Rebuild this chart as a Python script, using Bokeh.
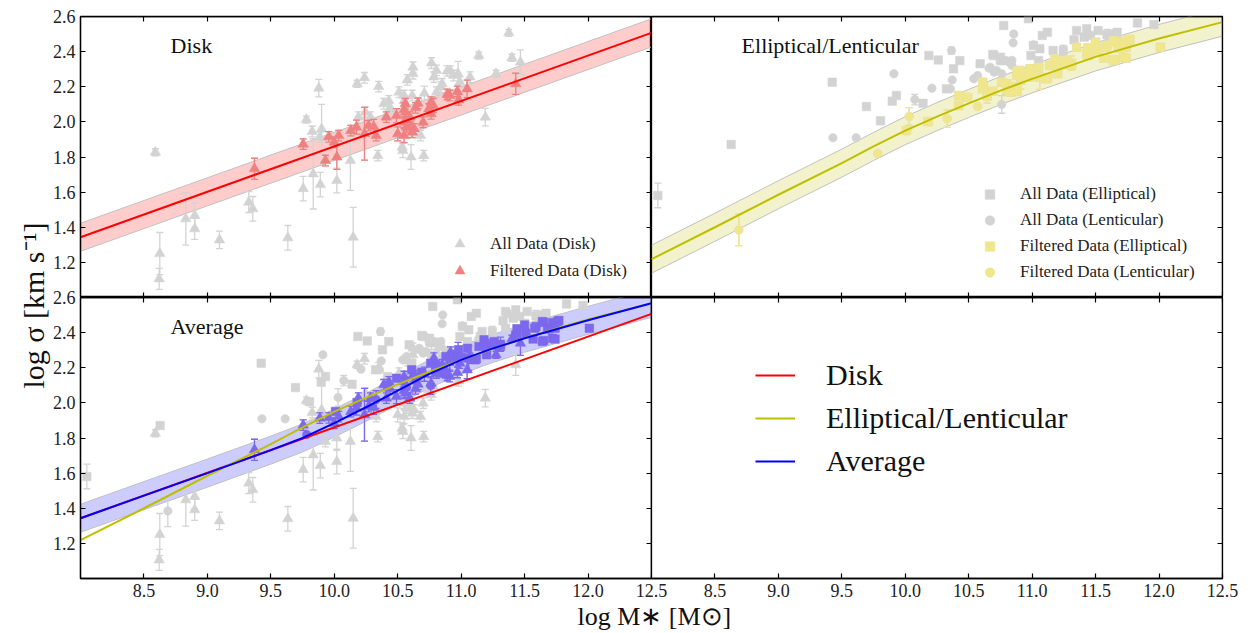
import numpy as np
from bokeh.plotting import figure
from bokeh.models import LinearAxis, FixedTicker, Label, Legend, LegendItem, Range1d, Title
from bokeh.layouts import row, column
from bokeh.embed import file_html
from bokeh.resources import INLINE

FONT = "Liberation Serif"

# ---------------- tick values ----------------
x_ticks = [8.5, 9.0, 9.5, 10.0, 10.5, 11.0, 11.5, 12.0, 12.5]
x_tick_labels = ["8.5", "9.0", "9.5", "10.0", "10.5", "11.0", "11.5", "12.0", "12.5"]
y_ticks = [1.2, 1.4, 1.6, 1.8, 2.0, 2.2, 2.4, 2.6]
y_tick_labels = ["1.2", "1.4", "1.6", "1.8", "2.0", "2.2", "2.4", "2.6"]

# ---------------- fit curves ----------------
disk_fit_x = [8.0, 12.5]
disk_fit_y = [1.343, 2.507]
ell_fit_x = [8.0, 8.5, 9.0, 9.5, 9.75, 10.0, 10.25, 10.5, 10.75, 11.0, 11.5, 12.0, 12.5]
ell_fit_y = [1.218, 1.40, 1.585, 1.765, 1.86, 1.95, 2.03, 2.105, 2.178, 2.245, 2.37, 2.475, 2.568]
avg_fit_x = [8.0, 8.5, 9.0, 9.5, 9.75, 10.0, 10.25, 10.5, 10.75, 11.0, 11.25, 11.5, 12.0, 12.5]
avg_fit_y = [1.343, 1.472, 1.60, 1.731, 1.80, 1.885, 1.975, 2.07, 2.165, 2.245, 2.31, 2.368, 2.47, 2.567]
band_half = 0.08

# ---------------- disk: filtered ----------------
disk_filt_x = [9.371, 9.755, 9.93, 9.957, 10.0, 10.02, 10.035, 10.13, 10.175, 10.238,
               10.27, 10.31, 10.33, 10.41, 10.49, 10.50, 10.55, 10.55, 10.55, 10.56,
               10.56, 10.57, 10.595, 10.60, 10.614, 10.63, 10.64, 10.66, 10.70, 10.745,
               10.763, 10.763, 10.78, 10.89, 10.91, 10.97, 10.98, 11.047, 11.43]
disk_filt_y = [1.733, 1.873, 1.78, 1.915, 1.884, 1.80, 1.922, 1.95, 1.97, 1.932,
               1.979, 1.974, 1.922, 2.027, 2.036, 1.932, 2.069, 1.998, 1.922, 2.103,
               2.055, 1.97, 2.027, 1.97, 1.941, 1.96, 2.08, 2.106, 1.998, 2.074,
               2.112, 2.046, 2.093, 2.156, 2.15, 2.173, 2.125, 2.188, 2.217]
disk_filt_err = [0.06, 0.03, 0.03, 0.03, 0.03, 0.07, 0.03, 0.03, 0.04, 0.15,
                 0.03, 0.04, 0.03, 0.03, 0.04, 0.04, 0.04, 0.03, 0.04, 0.03,
                 0.03, 0.03, 0.03, 0.03, 0.03, 0.03, 0.03, 0.03, 0.03, 0.03,
                 0.03, 0.03, 0.04, 0.03, 0.03, 0.03, 0.03, 0.05, 0.06]

# ---------------- disk: other (all data) ----------------
disk_oth_x = [8.59, 8.62, 8.625, 8.83, 8.90, 8.90, 9.095, 9.326, 9.358, 9.634,
              9.755, 9.78, 9.826, 9.834, 9.878, 9.886, 9.89, 9.90, 10.02, 10.127,
              10.149, 10.18, 10.19, 10.238, 10.245, 10.285, 10.343, 10.35, 10.39, 10.43,
              10.44, 10.51, 10.535, 10.54, 10.55, 10.55, 10.575, 10.605, 10.614, 10.62,
              10.62, 10.68, 10.705, 10.71, 10.766, 10.785, 10.805, 10.805, 10.84, 10.85,
              10.89, 10.916, 10.94, 10.976, 10.99, 11.07, 11.139, 11.19, 11.275, 11.375,
              11.40, 11.467]
disk_oth_y = [1.827, 1.106, 1.25, 1.448, 1.467, 1.391, 1.328, 1.543, 1.505, 1.34,
              1.62, 2.013, 1.945, 1.704, 2.192, 1.913, 1.643, 1.96, 1.666, 1.78,
              1.343, 2.217, 2.027, 2.251, 2.055, 2.027, 1.808, 2.201, 2.103, 2.12,
              2.08, 2.169, 1.856, 1.837, 2.12, 2.15, 2.239, 1.80, 2.15, 2.311,
              2.274, 1.922, 1.808, 2.163, 2.335, 2.255, 2.293, 2.169, 2.198, 2.217,
              2.29, 2.289, 2.264, 2.274, 2.226, 2.255, 2.378, 2.027, 2.274, 2.507,
              2.365, 2.34]
disk_oth_err = [0.02, 0.06, 0.12, 0.15, 0.07, 0.06, 0.05, 0.06, 0.07, 0.07,
                0.07, 0.02, 0.03, 0.20, 0.05, 0.03, 0.07, 0.14, 0.07, 0.17,
                0.17, 0.02, 0.03, 0.03, 0.03, 0.03, 0.03, 0.03, 0.03, 0.03,
                0.03, 0.03, 0.03, 0.04, 0.03, 0.03, 0.03, 0.07, 0.03, 0.03,
                0.03, 0.03, 0.03, 0.04, 0.03, 0.03, 0.03, 0.03, 0.03, 0.03,
                0.03, 0.03, 0.03, 0.07, 0.03, 0.03, 0.02, 0.05, 0.02, 0.02,
                0.02, 0.07]

# ---------------- elliptical: other (all data) ----------------
ell_oth_x = [8.05, 8.628, 9.424, 9.694, 9.805, 9.897, 9.93, 10.14, 10.186, 10.26,
             10.325, 10.38, 10.43, 10.59, 10.69, 10.70, 10.75, 10.75, 10.77, 10.776,
             10.83, 10.97, 10.99, 11.01, 11.05, 11.06, 11.08, 11.12, 11.165, 11.245,
             11.33, 11.35, 11.41, 11.43, 11.46, 11.52, 11.59, 11.64, 11.67, 11.83,
             11.96]
ell_oth_y = [1.581, 1.871, 2.226, 2.087, 2.006, 2.118, 2.15, 2.106, 2.378, 2.353,
             2.188, 2.302, 2.349, 2.331, 2.384, 2.378, 2.368, 2.35, 2.349, 2.549,
             2.345, 2.587, 2.378, 2.435, 2.349, 2.416, 2.492, 2.51, 2.406, 2.406,
             2.468, 2.52, 2.482, 2.53, 2.492, 2.52, 2.496, 2.501, 2.51, 2.563,
             2.554]
ell_oth_err = [0.07, 0, 0, 0, 0, 0, 0, 0, 0, 0,
               0, 0, 0, 0, 0, 0, 0, 0, 0, 0,
               0, 0, 0, 0, 0, 0, 0, 0, 0, 0.03,
               0, 0, 0, 0, 0, 0, 0.03, 0, 0, 0,
               0]

# ---------------- lenticular: other (all data) ----------------
len_oth_x = [9.43, 9.613, 9.91, 10.075, 10.21, 10.356, 10.364, 10.37, 10.54, 10.57,
             10.66, 10.67, 10.70, 10.72, 10.76, 10.76, 10.84, 10.84, 10.85, 10.855,
             11.01]
len_oth_y = [1.909, 1.909, 2.274, 2.127, 2.192, 2.188, 2.406, 2.239, 2.245, 2.264,
             2.306, 2.311, 2.283, 2.293, 2.099, 2.274, 2.321, 2.35, 2.45, 2.501,
             2.439]
len_oth_err = [0, 0, 0, 0.03, 0, 0, 0.02, 0, 0, 0,
               0, 0, 0, 0, 0.05, 0, 0, 0, 0, 0,
               0]

# ---------------- elliptical: filtered ----------------
ell_filt_x = [10.01, 10.18, 10.42, 10.42, 10.49, 10.61, 10.61, 10.61, 10.645, 10.69,
              10.76, 10.80, 10.80, 10.83, 10.84, 10.86, 10.88, 10.88, 10.88, 10.90,
              10.91, 10.93, 10.97, 10.98, 11.0, 11.05, 11.06, 11.11, 11.12, 11.14,
              11.18, 11.19, 11.20, 11.20, 11.24, 11.26, 11.31, 11.31, 11.35, 11.43,
              11.44, 11.44, 11.50, 11.50, 11.51, 11.567, 11.58, 11.59, 11.64, 11.64,
              11.65, 11.65, 11.68, 11.69, 11.72, 11.72, 11.74, 11.74, 11.76, 11.77,
              12.01]
ell_filt_y = [1.951, 2.002, 2.15, 2.093, 2.14, 2.203, 2.226, 2.188, 2.147, 2.175,
              2.226, 2.217, 2.179, 2.169, 2.198, 2.198, 2.264, 2.173, 2.287, 2.293,
              2.236, 2.274, 2.255, 2.302, 2.258, 2.311, 2.255, 2.245, 2.251, 2.321,
              2.359, 2.34, 2.274, 2.293, 2.327, 2.349, 2.334, 2.321, 2.425, 2.387,
              2.422, 2.378, 2.444, 2.454, 2.397, 2.363, 2.425, 2.435, 2.463, 2.349,
              2.458, 2.355, 2.425, 2.42, 2.368, 2.458, 2.363, 2.425, 2.463, 2.469,
              2.425]
ell_filt_err = [0, 0, 0, 0, 0, 0, 0, 0, 0.04, 0,
                0, 0, 0, 0, 0, 0, 0, 0, 0, 0,
                0.05, 0, 0, 0, 0, 0, 0.07, 0, 0, 0,
                0, 0, 0, 0, 0, 0, 0.04, 0, 0, 0,
                0, 0, 0, 0, 0, 0, 0, 0, 0, 0,
                0, 0, 0, 0, 0, 0, 0, 0, 0, 0.02,
                0]

# ---------------- lenticular: filtered ----------------
len_filt_x = [8.688, 9.783, 10.03, 10.33, 10.57]
len_filt_y = [1.385, 1.82, 2.031, 2.019, 2.088]
len_filt_err = [0.09, 0, 0.05, 0.05, 0]

# ---------------- colours ----------------
GREY = "#d3d3d3"
CORAL = "#f08080"
KHAKI = "#f0e68c"
PURPLE = "#7b68ee"
RED = "#ff0000"
OLIVE = "#bfbf00"
BLUE = "#0000ff"
EDGE = "#c0c0c0"
TXT = "#111111"


def base_fig(w, h, left, right, top, bottom, transparent=False):
    p = figure(width=w, height=h, x_range=Range1d(8.0, 12.5), y_range=Range1d(1.0, 2.6),
               x_axis_location=None, y_axis_location=None, toolbar_location=None,
               output_backend="svg", min_border_left=left, min_border_right=right,
               min_border_top=top, min_border_bottom=bottom)
    p.outline_line_color = "black"
    p.outline_line_width = 1.3
    p.grid.visible = False
    p.background_fill_color = "white"
    p.border_fill_color = None if transparent else "white"
    return p


def add_axis(p, side, ticks, labels=None, loc=None):
    ax = LinearAxis(ticker=FixedTicker(ticks=ticks, minor_ticks=[]),
                    major_tick_in=5, major_tick_out=0, minor_tick_in=0, minor_tick_out=0,
                    axis_line_color="black", axis_line_width=1.3,
                    major_tick_line_color="black", major_tick_line_width=1.2)
    if labels is None:
        ax.fixed_location = loc
        ax.major_label_text_color = None
    else:
        ax.major_label_overrides = {t: s for t, s in zip(ticks, labels)}
        ax.major_label_text_font = FONT
        ax.major_label_text_font_size = "18px"
        ax.major_label_text_color = "#222222"
        ax.major_label_standoff = 5
    p.add_layout(ax, side)


def draw_band(p, fx, fy, color):
    fx = np.asarray(fx, float)
    fy = np.asarray(fy, float)
    p.varea(x=fx, y1=fy - band_half, y2=fy + band_half, fill_color=color, fill_alpha=0.2)
    p.line(fx, fy - band_half, line_color=EDGE, line_width=1)
    p.line(fx, fy + band_half, line_color=EDGE, line_width=1)


def draw_points(p, xs, ys, es, marker, color, size):
    xs = np.asarray(xs, float)
    ys = np.asarray(ys, float)
    es = np.asarray(es, float)
    m = es > 0
    if m.any():
        p.segment(xs[m], ys[m] - es[m], xs[m], ys[m] + es[m], line_color=color, line_width=1.3)
        p.scatter(np.concatenate([xs[m], xs[m]]), np.concatenate([ys[m] - es[m], ys[m] + es[m]]),
                  marker="dash", size=7, line_color=color, line_width=1.3)
    return p.scatter(xs, ys, marker=marker, size=size, fill_color=color, line_color=color,
                     line_width=0.5)


def small_legend(p, items, x, y, gh):
    lg = Legend(items=items, location=(x, y), label_text_font=FONT, label_text_font_size="17px",
                label_text_color="#222222", glyph_width=25, glyph_height=gh, label_height=gh,
                label_standoff=18, spacing=2, padding=0, margin=0, border_line_color=None,
                background_fill_alpha=0)
    p.add_layout(lg)


def panel_title(p, text):
    p.add_layout(Label(x=8.71, y=2.435, text=text, text_font=FONT, text_font_size="22px",
                       text_baseline="middle", text_align="left", text_color=TXT))


TRI, SQ, CIR = 10.5, 8.5, 8.5
TOP, LEFT, BOTTOM, RIGHT = 16, 80, 55, 30
K = 105  # overlap of the bottom row over the top row

# ================= top-left: Disk =================
TL = base_fig(LEFT + 571, TOP + 281, LEFT, 0, TOP, 0)
add_axis(TL, "left", y_ticks, y_tick_labels)
add_axis(TL, "below", x_ticks, loc=1.0)
add_axis(TL, "above", x_ticks, loc=2.6)
add_axis(TL, "right", y_ticks, loc=12.5)
draw_band(TL, disk_fit_x, disk_fit_y, RED)
r_g = draw_points(TL, disk_oth_x + disk_filt_x, disk_oth_y + disk_filt_y,
                  disk_oth_err + disk_filt_err, "triangle", GREY, TRI)
r_f = draw_points(TL, disk_filt_x, disk_filt_y, disk_filt_err, "triangle", CORAL, TRI)
TL.line(disk_fit_x, disk_fit_y, line_color=RED, line_width=2)
panel_title(TL, "Disk")
small_legend(TL, [LegendItem(label="All Data (Disk)", renderers=[r_g]),
                  LegendItem(label="Filtered Data (Disk)", renderers=[r_f])], 367, 14, 25)

# ================= top-right: Elliptical / Lenticular =================
TR = base_fig(571 + RIGHT, TOP + 281, 0, RIGHT, TOP, 0)
add_axis(TR, "below", x_ticks, loc=1.0)
add_axis(TR, "above", x_ticks, loc=2.6)
add_axis(TR, "right", y_ticks, loc=12.5)
draw_band(TR, ell_fit_x, ell_fit_y, OLIVE)
r_eg = draw_points(TR, ell_oth_x + ell_filt_x, ell_oth_y + ell_filt_y,
                   ell_oth_err + ell_filt_err, "square", GREY, SQ)
r_lg = draw_points(TR, len_oth_x + len_filt_x, len_oth_y + len_filt_y,
                   len_oth_err + len_filt_err, "circle", GREY, CIR)
r_ef = draw_points(TR, ell_filt_x, ell_filt_y, ell_filt_err, "square", KHAKI, SQ)
r_lf = draw_points(TR, len_filt_x, len_filt_y, len_filt_err, "circle", KHAKI, CIR)
TR.line(ell_fit_x, ell_fit_y, line_color=OLIVE, line_width=2)
panel_title(TR, "Elliptical/Lenticular")
small_legend(TR, [LegendItem(label="All Data (Elliptical)", renderers=[r_eg]),
                  LegendItem(label="All Data (Lenticular)", renderers=[r_lg]),
                  LegendItem(label="Filtered Data (Elliptical)", renderers=[r_ef]),
                  LegendItem(label="Filtered Data (Lenticular)", renderers=[r_lf])], 326, 13, 24)

# ================= bottom-left: Average =================
BL = base_fig(LEFT + 571 + 16, K + 281 + BOTTOM, LEFT, 16, K, BOTTOM, transparent=True)
add_axis(BL, "left", y_ticks, y_tick_labels)
add_axis(BL, "below", x_ticks, x_tick_labels)
add_axis(BL, "above", x_ticks, loc=2.6)
add_axis(BL, "right", y_ticks, loc=12.5)
draw_band(BL, avg_fit_x, avg_fit_y, BLUE)

all_sets = [
    (disk_oth_x + disk_filt_x, disk_oth_y + disk_filt_y, disk_oth_err + disk_filt_err, "triangle", TRI),
    (ell_oth_x + ell_filt_x, ell_oth_y + ell_filt_y, ell_oth_err + ell_filt_err, "square", SQ),
    (len_oth_x + len_filt_x, len_oth_y + len_filt_y, len_oth_err + len_filt_err, "circle", CIR),
]
for xs, ys, es, mk, sz in all_sets:
    draw_points(BL, xs, ys, es, mk, GREY, sz)
for xs, ys, es, mk, sz in all_sets:
    xa, ya, ea = np.asarray(xs), np.asarray(ys), np.asarray(es)
    keep = np.abs(ya - np.interp(xa, avg_fit_x, avg_fit_y)) <= band_half
    draw_points(BL, xa[keep], ya[keep], ea[keep], mk, PURPLE, sz)
BL.line(disk_fit_x, disk_fit_y, line_color=RED, line_width=2)
BL.line(ell_fit_x, ell_fit_y, line_color=OLIVE, line_width=2)
BL.line(avg_fit_x, avg_fit_y, line_color=BLUE, line_width=2)
panel_title(BL, "Average")
BL.add_layout(Title(text="log σ [km s⁻¹]", align="left", offset=190, standoff=0,
                    vertical_align="bottom", text_font=FONT, text_font_size="30px",
                    text_font_style="normal", text_color=TXT), "left")

# ================= bottom-right: legend panel =================
BR = base_fig(90 + 571 + RIGHT, K + 281 + BOTTOM, 90, RIGHT, K, BOTTOM, transparent=True)
BR.margin = (0, 0, 0, -(16 + 90))
add_axis(BR, "below", x_ticks, x_tick_labels)
add_axis(BR, "above", x_ticks, loc=2.6)
add_axis(BR, "right", y_ticks, loc=12.5)
BR.extra_y_ranges = {"off": Range1d(100, 101)}
l_d = BR.line(disk_fit_x, disk_fit_y, line_color=RED, line_width=2, y_range_name="off")
l_e = BR.line(ell_fit_x, ell_fit_y, line_color=OLIVE, line_width=2, y_range_name="off")
l_a = BR.line(avg_fit_x, avg_fit_y, line_color=BLUE, line_width=2, y_range_name="off")
big = Legend(items=[LegendItem(label="Disk", renderers=[l_d]),
                    LegendItem(label="Elliptical/Lenticular", renderers=[l_e]),
                    LegendItem(label="Average", renderers=[l_a])],
             location=(104, 100), label_text_font=FONT, label_text_font_size="30px",
             label_text_color=TXT, glyph_width=40, glyph_height=34, label_height=34,
             label_standoff=31, spacing=9, padding=0, margin=0, border_line_color=None,
             background_fill_alpha=0)
BR.add_layout(big)
BR.add_layout(Title(text="log M∗ [M⊙]", align="left", offset=-74, standoff=0,
                    vertical_align="bottom", text_font=FONT, text_font_size="26px",
                    text_font_style="normal", text_color=TXT), "below")

layout = column(row(TL, TR), row(BL, BR, margin=(-K, 0, 0, 0)))

open("out.html", "w").write(file_html(layout, INLINE))
